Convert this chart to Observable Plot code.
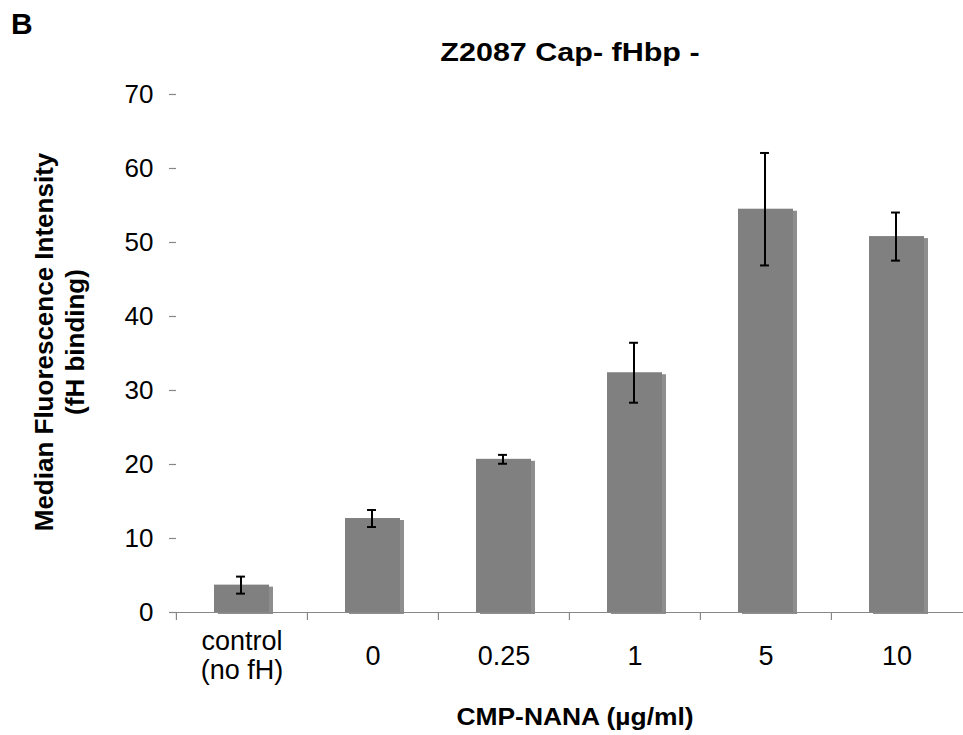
<!DOCTYPE html>
<html>
<head>
<meta charset="utf-8">
<script src="https://cdn.jsdelivr.net/npm/d3@7"></script>
<script src="https://cdn.jsdelivr.net/npm/@observablehq/plot@0.6"></script>
<style>
  html, body { margin: 0; padding: 0; background: #fff; }
  #wrap { position: relative; width: 963px; height: 735px; font-family: "Liberation Sans", Arial, sans-serif; overflow: hidden; }
  #wrap svg { position: absolute; left: 0; top: 0; }
  .lbl { position: absolute; font-weight: bold; color: #000; white-space: nowrap; line-height: 1; }
</style>
</head>
<body>
<div id="wrap">
  <div class="lbl" id="panel" style="left:11px; top:9px; font-size:30px;">B</div>
  <div class="lbl" id="title" style="left:570px; top:40px; font-size:25px; transform:translateX(-50%) scaleX(1.22);">Z2087 Cap- fHbp -</div>
  <div class="lbl" id="xlab" style="left:575px; top:705px; font-size:24px; transform:translateX(-50%) scaleX(1.1);">CMP-NANA (µg/ml)</div>
  <div class="lbl" id="ylab" style="left:60px; top:342px; font-size:26px; line-height:31px; text-align:center; transform:translate(-50%,-50%) rotate(-90deg);">Median Fluorescence Intensity<br>(fH binding)</div>
</div>
<script>
const categories = ["control (no fH)", "0", "0.25", "1", "5", "10"];
const tickLabels = ["control\n(no fH)", "0", "0.25", "1", "5", "10"];
const values = [3.7, 12.7, 20.7, 32.4, 54.5, 50.8];
const errors = [1.15, 1.15, 0.6, 4.05, 7.6, 3.25];
const yTicks = [0, 10, 20, 30, 40, 50, 60, 70];

const data = categories.map((c, i) => ({
  cat: c, label: tickLabels[i], value: values[i],
  lo: values[i] - errors[i], hi: values[i] + errors[i]
}));

const W = 963, H = 735, ML = 176, MR = 0, MT = 94, MB = 123;
const PI = 0.58, PO = 0.29;
const band = d3.scaleBand().domain(categories).range([ML, W - MR]).paddingInner(PI).paddingOuter(PO);
const step = band.step();
const bw = band.bandwidth();
const capHalf = 4.5;
const capInset = bw / 2 - capHalf;
const axisGray = "#878787";

const chart = Plot.plot({
  width: W, height: H,
  marginLeft: ML, marginRight: MR, marginTop: MT, marginBottom: MB,
  style: { fontFamily: "'Liberation Sans', Arial, sans-serif", background: "white", overflow: "visible" },
  x: { type: "band", domain: categories, paddingInner: PI, paddingOuter: PO, axis: null },
  y: { domain: [0, 70], axis: null },
  marks: [
    // bar shadow
    Plot.barY(data, { x: "cat", y: "value", fill: "#8e8e8e", dx: 4, dy: 2 }),
    Plot.barY(data, { x: "cat", y: "value", fill: "#808080" }),
    // x axis baseline
    Plot.ruleY([0], { stroke: axisGray, strokeWidth: 1.2 }),
    // category boundary ticks below the axis
    Plot.ruleX(data, { x: "cat", dx: -step / 2, insetTop: H - MT - MB, insetBottom: -8, stroke: axisGray, strokeWidth: 1.2 }),
    // y axis
    Plot.axisY({ ticks: yTicks, tickSize: 7, tickPadding: 16, fontSize: 26, stroke: axisGray, fill: "black", line: true, tickFormat: d => String(d), strokeWidth: 1.2 }),
    // error bars
    Plot.ruleX(data, { x: "cat", y1: "lo", y2: "hi", dx: -1, stroke: "black", strokeWidth: 2 }),
    Plot.tickY(data, { x: "cat", y: "hi", dx: -1, insetLeft: capInset, insetRight: capInset, stroke: "black", strokeWidth: 2 }),
    Plot.tickY(data, { x: "cat", y: "lo", dx: -1, insetLeft: capInset, insetRight: capInset, stroke: "black", strokeWidth: 2 }),
    // category tick labels
    Plot.text(data, { x: "cat", text: "label", frameAnchor: "bottom", dy: 43, lineAnchor: "middle", lineHeight: 1.08, fontSize: 27, fill: "black" })
  ]
});
document.getElementById("wrap").prepend(chart);
</script>
</body>
</html>
